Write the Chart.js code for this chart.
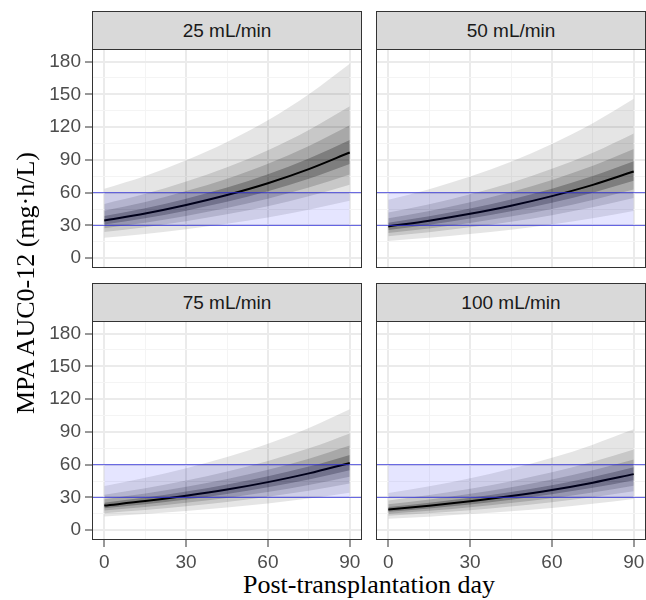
<!DOCTYPE html>
<html>
<head>
<meta charset="utf-8">
<script src="https://cdn.jsdelivr.net/npm/chart.js@4/dist/chart.umd.min.js"></script>
<style>
  body { margin: 0; background: #fff; width: 646px; height: 600px; position: relative; overflow: hidden;
         font-family: "Liberation Sans", Arial, sans-serif; }
  canvas { position: absolute; }
  .strip { position: absolute; box-sizing: border-box; height: 39px; border: 1px solid #333; background: #d9d9d9;
           color: #1a1a1a; font-size: 19px; display: flex; align-items: center; justify-content: center; }
  .title { position: absolute; font-family: "Liberation Serif", "Times New Roman", serif; font-size: 26px;
           color: #000; white-space: nowrap; transform: translate(-50%, -50%); }
</style>
</head>
<body>
<div class="strip" id="s0" style="left:92px;top:11px;width:270px"></div>
<div class="strip" id="s1" style="left:376px;top:11px;width:270px"></div>
<div class="strip" id="s2" style="left:92px;top:283px;width:270px"></div>
<div class="strip" id="s3" style="left:376px;top:283px;width:270px"></div>

<canvas id="c0" width="322" height="219" style="left:40px;top:49px"></canvas>
<canvas id="c1" width="270" height="219" style="left:376px;top:49px"></canvas>
<canvas id="c2" width="322" height="249" style="left:40px;top:321px"></canvas>
<canvas id="c3" width="270" height="249" style="left:376px;top:321px"></canvas>

<div class="title" style="left:26px;top:283px;transform:translate(-50%,-50%) rotate(-90deg)">MPA AUC0-12 (mg·h/L)</div>
<div class="title" style="left:369px;top:585px">Post-transplantation day</div>

<script>
// facet labels and axes
const PANEL_LABELS = ["25 mL/min", "50 mL/min", "75 mL/min", "100 mL/min"];
const DAYS = [0, 15, 30, 45, 60, 75, 90];
const X_TICKS = [0, 30, 60, 90];
const Y_TICKS = [0, 30, 60, 90, 120, 150, 180];
const TARGET_RANGE = [30, 60];

// 25 mL/min  (HI1/LO1 = outermost band ... HI4/LO4 = innermost)
const CL25_MED = [34.5, 40.9, 48.7, 57.8, 68.6, 81.5, 96.7];
const CL25_HI1 = [63.5, 75.3, 89.6, 106.4, 126.2, 150.0, 177.9];
const CL25_LO1 = [18.8, 22.2, 26.5, 31.4, 37.3, 44.3, 52.6];
const CL25_HI2 = [49.7, 58.9, 70.1, 83.2, 98.8, 117.4, 139.2];
const CL25_LO2 = [24.0, 28.4, 33.8, 40.1, 47.6, 56.6, 67.2];
const CL25_HI3 = [43.5, 51.5, 61.4, 72.8, 86.4, 102.7, 121.8];
const CL25_LO3 = [27.4, 32.5, 38.7, 45.9, 54.4, 64.7, 76.7];
const CL25_HI4 = [38.6, 45.8, 54.5, 64.7, 76.8, 91.3, 108.3];
const CL25_LO4 = [30.8, 36.5, 43.5, 51.6, 61.3, 72.8, 86.3];

// 50 mL/min
const CL50_MED = [29.0, 34.3, 40.6, 48.0, 56.8, 67.1, 79.3];
const CL50_HI1 = [53.4, 63.1, 74.7, 88.3, 104.5, 123.5, 145.9];
const CL50_LO1 = [15.8, 18.6, 22.1, 26.1, 30.9, 36.5, 43.1];
const CL50_HI2 = [41.8, 49.4, 58.5, 69.1, 81.8, 96.6, 114.2];
const CL50_LO2 = [20.1, 23.8, 28.2, 33.3, 39.4, 46.6, 55.1];
const CL50_HI3 = [36.5, 43.2, 51.2, 60.5, 71.6, 84.5, 99.9];
const CL50_LO3 = [23.0, 27.2, 32.2, 38.1, 45.1, 53.3, 62.9];
const CL50_HI4 = [32.5, 38.4, 45.5, 53.8, 63.6, 75.2, 88.8];
const CL50_LO4 = [25.9, 30.6, 36.3, 42.9, 50.7, 59.9, 70.8];

// 75 mL/min
const CL75_MED = [22.5, 26.6, 31.5, 37.2, 44.0, 52.0, 61.5];
const CL75_HI1 = [40.5, 47.9, 56.7, 67.0, 79.2, 93.6, 110.7];
const CL75_LO1 = [12.5, 14.8, 17.5, 20.7, 24.4, 28.9, 34.2];
const CL75_HI2 = [32.4, 38.3, 45.4, 53.6, 63.4, 74.9, 88.6];
const CL75_LO2 = [15.6, 18.5, 21.9, 25.8, 30.6, 36.1, 42.7];
const CL75_HI3 = [28.4, 33.5, 39.7, 46.9, 55.4, 65.5, 77.5];
const CL75_LO3 = [17.9, 21.1, 25.0, 29.5, 34.9, 41.3, 48.8];
const CL75_HI4 = [25.2, 29.8, 35.3, 41.7, 49.3, 58.2, 68.9];
const CL75_LO4 = [20.1, 23.8, 28.1, 33.2, 39.3, 46.4, 54.9];

// 100 mL/min
const CL100_MED = [18.9, 22.3, 26.4, 31.2, 36.8, 43.5, 51.3];
const CL100_HI1 = [34.0, 40.1, 47.5, 56.2, 66.2, 78.3, 92.3];
const CL100_LO1 = [10.5, 12.4, 14.7, 17.3, 20.4, 24.2, 28.5];
const CL100_HI2 = [27.2, 32.1, 38.0, 44.9, 53.0, 62.6, 73.9];
const CL100_LO2 = [13.1, 15.5, 18.3, 21.7, 25.6, 30.2, 35.6];
const CL100_HI3 = [23.8, 28.1, 33.3, 39.3, 46.4, 54.8, 64.6];
const CL100_LO3 = [15.0, 17.7, 21.0, 24.8, 29.2, 34.5, 40.7];
const CL100_HI4 = [21.2, 25.0, 29.6, 34.9, 41.2, 48.7, 57.5];
const CL100_LO4 = [16.9, 19.9, 23.6, 27.9, 32.9, 38.8, 45.8];

const panels = [
  { med: CL25_MED, hi: [CL25_HI1, CL25_HI2, CL25_HI3, CL25_HI4], lo: [CL25_LO1, CL25_LO2, CL25_LO3, CL25_LO4], showX: false, showY: true },
  { med: CL50_MED, hi: [CL50_HI1, CL50_HI2, CL50_HI3, CL50_HI4], lo: [CL50_LO1, CL50_LO2, CL50_LO3, CL50_LO4], showX: false, showY: false },
  { med: CL75_MED, hi: [CL75_HI1, CL75_HI2, CL75_HI3, CL75_HI4], lo: [CL75_LO1, CL75_LO2, CL75_LO3, CL75_LO4], showX: true, showY: true },
  { med: CL100_MED, hi: [CL100_HI1, CL100_HI2, CL100_HI3, CL100_HI4], lo: [CL100_LO1, CL100_LO2, CL100_LO3, CL100_LO4], showX: true, showY: false }
];

// band fill strength, outermost first
const bandAlpha = [0.10, 0.13, 0.16, 0.25];

Chart.defaults.font.family = '"Liberation Sans", Arial, sans-serif';
Chart.defaults.animation = false;

const pts = ys => DAYS.map((d, i) => ({ x: d, y: ys[i] }));
const flat = (y, x0, x1) => [{ x: x0, y: y }, { x: x1, y: y }];

const panelBorder = {
  id: "panelBorder",
  afterDraw(chart) {
    const a = chart.chartArea, ctx = chart.ctx;
    ctx.save();
    ctx.strokeStyle = "#333";
    ctx.lineWidth = 1;
    ctx.strokeRect(a.left + 0.5, a.top + 0.5, a.right - a.left - 1, a.bottom - a.top - 1);
    ctx.restore();
  }
};

function gridTicks(max) {
  const t = [];
  for (let v = 0; v <= max; v += 15) t.push({ value: v });
  return t;
}

function axis(show, majors, min, max, isX) {
  const isMajor = c => c.tick && majors.includes(c.tick.value);
  return {
    type: "linear",
    min: min,
    max: max,
    afterBuildTicks: s => { s.ticks = gridTicks(majors[majors.length - 1]); },
    afterFit: s => {
      if (isX) s.height = show ? 30 : 0;
      else s.width = show ? 52 : 0;
      // labels sit inside the expanded range, no extra room needed
      s.paddingTop = 0; s.paddingBottom = 0; s.paddingLeft = 0; s.paddingRight = 0;
    },
    border: { display: false },
    grid: {
      color: c => isMajor(c) ? "#ebebeb" : "#f4f4f4",
      lineWidth: c => isMajor(c) ? 2 : 1,
      drawTicks: show,
      tickLength: 7,
      tickWidth: 1,
      tickColor: c => isMajor(c) ? "#333" : "rgba(0,0,0,0)"
    },
    ticks: {
      display: show,
      autoSkip: false,
      maxRotation: 0,
      padding: 4,
      color: "#4d4d4d",
      font: { size: 19 },
      callback: v => majors.includes(v) ? String(v) : ""
    }
  };
}

panels.forEach((p, k) => {
  document.getElementById("s" + k).textContent = PANEL_LABELS[k];

  const datasets = [
    // target window lines across the full panel
    { data: flat(TARGET_RANGE[1], -10, 100), borderColor: "rgba(40,40,220,0.75)", borderWidth: 1, pointRadius: 0, fill: false },
    { data: flat(TARGET_RANGE[0], -10, 100), borderColor: "rgba(40,40,220,0.75)", borderWidth: 1, pointRadius: 0, fill: false },
    // shaded target window over the simulated days
    { data: flat(TARGET_RANGE[1], DAYS[0], DAYS[DAYS.length - 1]), borderWidth: 0, pointRadius: 0, fill: 3, backgroundColor: "rgba(0,0,255,0.1)" },
    { data: flat(TARGET_RANGE[0], DAYS[0], DAYS[DAYS.length - 1]), borderWidth: 0, pointRadius: 0, fill: false },
    // median
    { data: pts(p.med), borderColor: "#000", borderWidth: 2, pointRadius: 0, fill: false, cubicInterpolationMode: "monotone" }
  ];
  // bands, innermost first so the outer ones are drawn underneath
  for (let b = 3; b >= 0; b--) {
    const idx = datasets.length;
    datasets.push({ data: pts(p.hi[b]), borderWidth: 0, pointRadius: 0, fill: idx + 1,
                    backgroundColor: "rgba(0,0,0," + bandAlpha[b] + ")", cubicInterpolationMode: "monotone" });
    datasets.push({ data: pts(p.lo[b]), borderWidth: 0, pointRadius: 0, fill: false, cubicInterpolationMode: "monotone" });
  }

  new Chart(document.getElementById("c" + k), {
    type: "line",
    data: { datasets: datasets },
    options: {
      responsive: false,
      devicePixelRatio: 1,
      layout: { padding: 0 },
      plugins: { legend: { display: false }, tooltip: { enabled: false } },
      scales: {
        x: axis(p.showX, X_TICKS, -4.5, 94.5, true),
        y: axis(p.showY, Y_TICKS, -9, 191.5, false)
      }
    },
    plugins: [panelBorder]
  });
});
</script>
</body>
</html>
